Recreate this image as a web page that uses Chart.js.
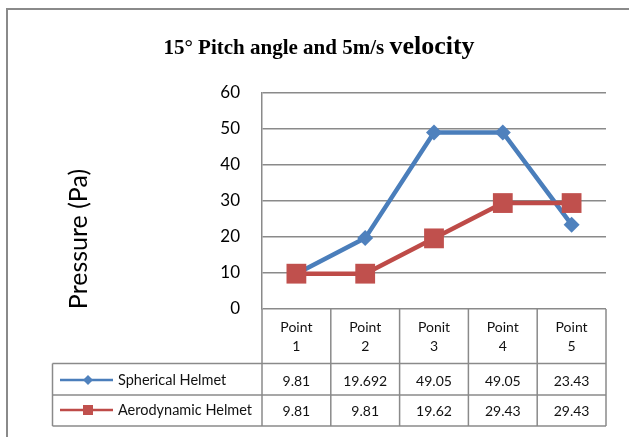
<!DOCTYPE html>
<html><head><meta charset="utf-8">
<script src="https://cdn.jsdelivr.net/npm/chart.js@4.4.0/dist/chart.umd.min.js"></script>
<style>html,body{margin:0;padding:0;background:#fff;} #wrap{width:629px;height:437px;position:relative;}</style>
</head><body><div id="wrap"><canvas id="c" width="629" height="437"></canvas></div>
<script>
const categories = [["Point","1"],["Point","2"],["Ponit","3"],["Point","4"],["Point","5"]];
const sphericalValues = [9.81, 19.692, 49.05, 49.05, 23.43];
const aerodynamicValues = [9.81, 9.81, 19.62, 29.43, 29.43];
const seriesNames = ["Spherical Helmet", "Aerodynamic Helmet"];
const yMin = 0, yMax = 60, yStep = 10;
const titleMain = "15° Pitch angle and 5m/s ";
const titleTail = "velocity";
const yTitle = "Pressure (Pa)";

const BLUE = '#4a7ebb', BLUE_M = '#4f81bd';
const RED = '#be4b48', RED_M = '#c0504d';
const GRID = '#8a8a8a';

const extras = {
  id: 'extras',
  afterDraw(chart) {
    const ctx = chart.ctx, xs = chart.scales.x, a = chart.chartArea;
    const n = categories.length;
    const edges = [a.left];
    for (let i = 1; i < n; i++) edges.push((xs.getPixelForValue(i - 1) + xs.getPixelForValue(i)) / 2);
    edges.push(a.right);
    const top = a.bottom, r1 = 363.5, r2 = 395, r3 = 426, legLeft = 52.5;
    ctx.save();
    // frame
    ctx.strokeStyle = GRID; ctx.lineWidth = 2;
    ctx.beginPath(); ctx.moveTo(7, 437); ctx.lineTo(7, 9); ctx.lineTo(629, 9); ctx.stroke();
    // table lines
    ctx.lineWidth = 1.5;
    ctx.beginPath();
    edges.forEach(e => { ctx.moveTo(e, top); ctx.lineTo(e, r3); });
    ctx.moveTo(legLeft, r1); ctx.lineTo(legLeft, r3);
    [r1, r2, r3].forEach(y => { ctx.moveTo(legLeft, y); ctx.lineTo(a.right, y); });
    ctx.stroke();
    // header text
    ctx.fillStyle = '#111';
    ctx.font = '14px Lato';
    ctx.textAlign = 'center'; ctx.textBaseline = 'middle';
    categories.forEach((c, i) => {
      const cx = xs.getPixelForValue(i);
      ctx.fillText(c[0], cx, 327);
      ctx.fillText(c[1], cx, 346);
      ctx.fillText(String(sphericalValues[i]), cx, 381);
      ctx.fillText(String(aerodynamicValues[i]), cx, 411);
    });
    // legend keys
    ctx.textAlign = 'left';
    ctx.font = '14.5px Lato';
    ctx.fillText(seriesNames[0], 118, 380);
    ctx.fillText(seriesNames[1], 118, 410);
    ctx.lineWidth = 2.5;
    ctx.strokeStyle = BLUE; ctx.beginPath(); ctx.moveTo(60, 380); ctx.lineTo(113, 380); ctx.stroke();
    ctx.fillStyle = BLUE_M; ctx.beginPath(); ctx.moveTo(88, 375); ctx.lineTo(93, 380); ctx.lineTo(88, 385); ctx.lineTo(83, 380); ctx.closePath(); ctx.fill();
    ctx.strokeStyle = RED; ctx.beginPath(); ctx.moveTo(60, 410); ctx.lineTo(113, 410); ctx.stroke();
    ctx.fillStyle = RED_M; ctx.fillRect(83, 405, 10, 10);
    // title
    ctx.fillStyle = '#000'; ctx.textBaseline = 'alphabetic';
    const f1 = 'bold 21px "Liberation Serif"', f2 = 'bold 26px "Liberation Serif"';
    ctx.font = f1; const w1 = ctx.measureText(titleMain).width;
    ctx.font = f2; const w2 = ctx.measureText(titleTail).width;
    const sx = 319 - (w1 + w2) / 2;
    ctx.textAlign = 'left';
    ctx.font = f1; ctx.fillText(titleMain, sx, 54);
    ctx.font = f2; ctx.fillText(titleTail, sx + w1, 54);
    // y title
    ctx.translate(87, 239); ctx.rotate(-Math.PI / 2);
    ctx.textAlign = 'center'; ctx.font = '25px Lato'; ctx.fillStyle = '#000';
    ctx.fillText(yTitle, 0, 0);
    ctx.restore();
  }
};

new Chart(document.getElementById('c'), {
  type: 'line',
  data: {
    labels: categories,
    datasets: [
      { label: seriesNames[0], data: sphericalValues, borderColor: BLUE, backgroundColor: BLUE_M,
        borderWidth: 4.5, pointStyle: 'rectRot', pointRadius: 8, pointBorderWidth: 0, pointBackgroundColor: BLUE_M, order: 1, tension: 0 },
      { label: seriesNames[1], data: aerodynamicValues, borderColor: RED, backgroundColor: RED_M,
        borderWidth: 4.5, pointStyle: 'rect', pointRadius: 14, pointBorderWidth: 0, pointBackgroundColor: RED_M, order: 0, tension: 0 }
    ]
  },
  options: {
    responsive: false, animation: false, devicePixelRatio: 1,
    layout: { padding: { left: 0, top: 93, right: 23, bottom: 128 } },
    plugins: { legend: { display: false }, title: { display: false }, tooltip: { enabled: false } },
    scales: {
      x: { display: false, offset: true },
      y: {
        min: yMin, max: yMax,
        ticks: { stepSize: yStep, padding: 22, color: '#000', font: { family: 'Lato', size: 17 } },
        grid: { color: GRID, lineWidth: 1.5, drawTicks: false },
        border: { display: true, color: GRID, width: 1.5 },
        afterFit(s) { s.width = 262; }
      }
    }
  },
  plugins: [extras]
});
</script>
</body></html>
